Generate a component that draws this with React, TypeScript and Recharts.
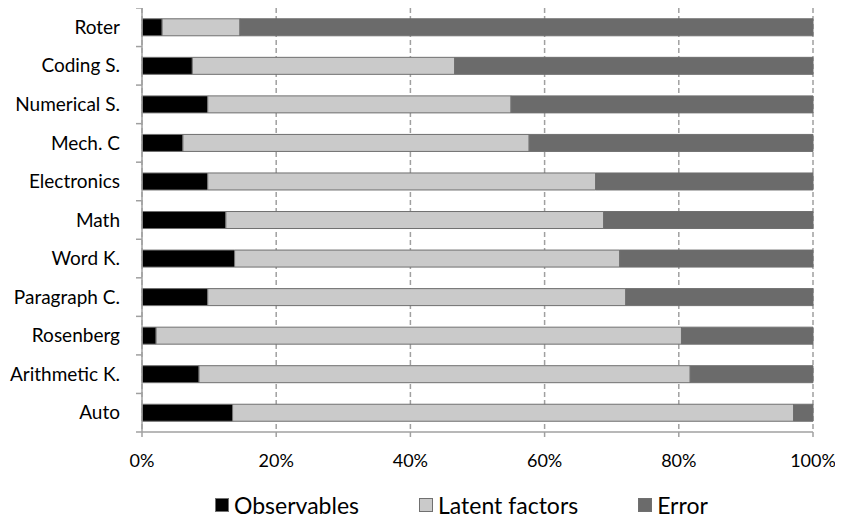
import { Bar, BarChart, CartesianGrid, Legend, XAxis, YAxis } from "recharts"

// categories, top to bottom
const tests = [
  "Roter",
  "Coding S.",
  "Numerical S.",
  "Mech. C",
  "Electronics",
  "Math",
  "Word K.",
  "Paragraph C.",
  "Rosenberg",
  "Arithmetic K.",
  "Auto",
]

// share of variance (%)
const observables = [3.0, 7.5, 9.8, 6.1, 9.8, 12.5, 13.8, 9.8, 2.1, 8.5, 13.5]
const latentFactors = [11.6, 39.1, 45.2, 51.6, 57.8, 56.3, 57.4, 62.3, 78.3, 73.2, 83.6]
const error = [85.4, 53.4, 45.0, 42.3, 32.4, 31.2, 28.8, 27.9, 19.6, 18.3, 2.9]

const xTicks = [0, 20, 40, 60, 80, 100]

const data = tests.map((name, i) => ({
  name,
  observables: observables[i],
  latent: latentFactors[i],
  error: error[i],
}))

const FONT = "Lato, 'Open Sans', sans-serif"
const BAND = 424 / tests.length
const Y_GAP = 22

const CategoryTick = (props: any) => {
  const { x, y, payload, index } = props
  const ax = x + Y_GAP
  return (
    <g>
      <line x1={ax - 6} x2={ax} y1={y - BAND / 2} y2={y - BAND / 2} stroke="#a0a0a0" strokeWidth={1.5} />
      {index === tests.length - 1 && (
        <line x1={ax - 6} x2={ax} y1={y + BAND / 2} y2={y + BAND / 2} stroke="#a0a0a0" strokeWidth={1.5} />
      )}
      <text x={x} y={y} dy="0.35em" textAnchor="end" fontSize={19} fill="#000" fontFamily={FONT}>
        {payload.value}
      </text>
    </g>
  )
}

const legendItems = [
  { label: "Observables", color: "#000000" },
  { label: "Latent factors", color: "#cacaca" },
  { label: "Error", color: "#6b6b6b" },
]

const LegendContent = () => (
  <div
    style={{
      height: 30,
      marginTop: -4,
      display: "flex",
      justifyContent: "flex-start",
      alignItems: "center",
      gap: 60,
      paddingLeft: 207,
      fontFamily: FONT,
      fontSize: 23,
      color: "#000",
    }}
  >
    {legendItems.map((item) => (
      <div key={item.label} style={{ display: "flex", alignItems: "center" }}>
        <span
          style={{
            width: 12,
            height: 12,
            background: item.color,
            border: "1px solid #707070",
            marginRight: 5,
            display: "inline-block",
          }}
        />
        {item.label}
      </div>
    ))}
  </div>
)

export default function App() {
  return (
    <div style={{ width: 835, height: 516 }}>
      <BarChart
        width={835}
        height={516}
        data={data}
        layout="vertical"
        margin={{ top: 0, right: 30, left: 0, bottom: 0 }}
        barCategoryGap="28%"
      >
        <CartesianGrid horizontal={false} stroke="#a0a0a0" strokeDasharray="5 3" strokeWidth={1.5} />
        <XAxis
          type="number"
          domain={[0, 100]}
          ticks={xTicks}
          tickFormatter={(v) => `${v}%`}
          height={62}
          tickSize={5}
          tickMargin={17}
          stroke="#a0a0a0"
          strokeWidth={1.5}
          tick={{ fontSize: 18, fill: "#000", fontFamily: FONT }}
          interval={0}
        />
        <YAxis
          type="category"
          dataKey="name"
          width={134}
          tickLine={false}
          tickSize={0}
          tickMargin={Y_GAP}
          stroke="#a0a0a0"
          strokeWidth={1.5}
          tick={<CategoryTick />}
          interval={0}
        />
        <Legend verticalAlign="bottom" height={30} content={<LegendContent />} />
        <Bar dataKey="observables" stackId="a" fill="#000000" stroke="#6f6f6f" isAnimationActive={false} />
        <Bar dataKey="latent" stackId="a" fill="#cacaca" stroke="#6f6f6f" isAnimationActive={false} />
        <Bar dataKey="error" stackId="a" fill="#6b6b6b" stroke="#6f6f6f" isAnimationActive={false} />
      </BarChart>
    </div>
  )
}
